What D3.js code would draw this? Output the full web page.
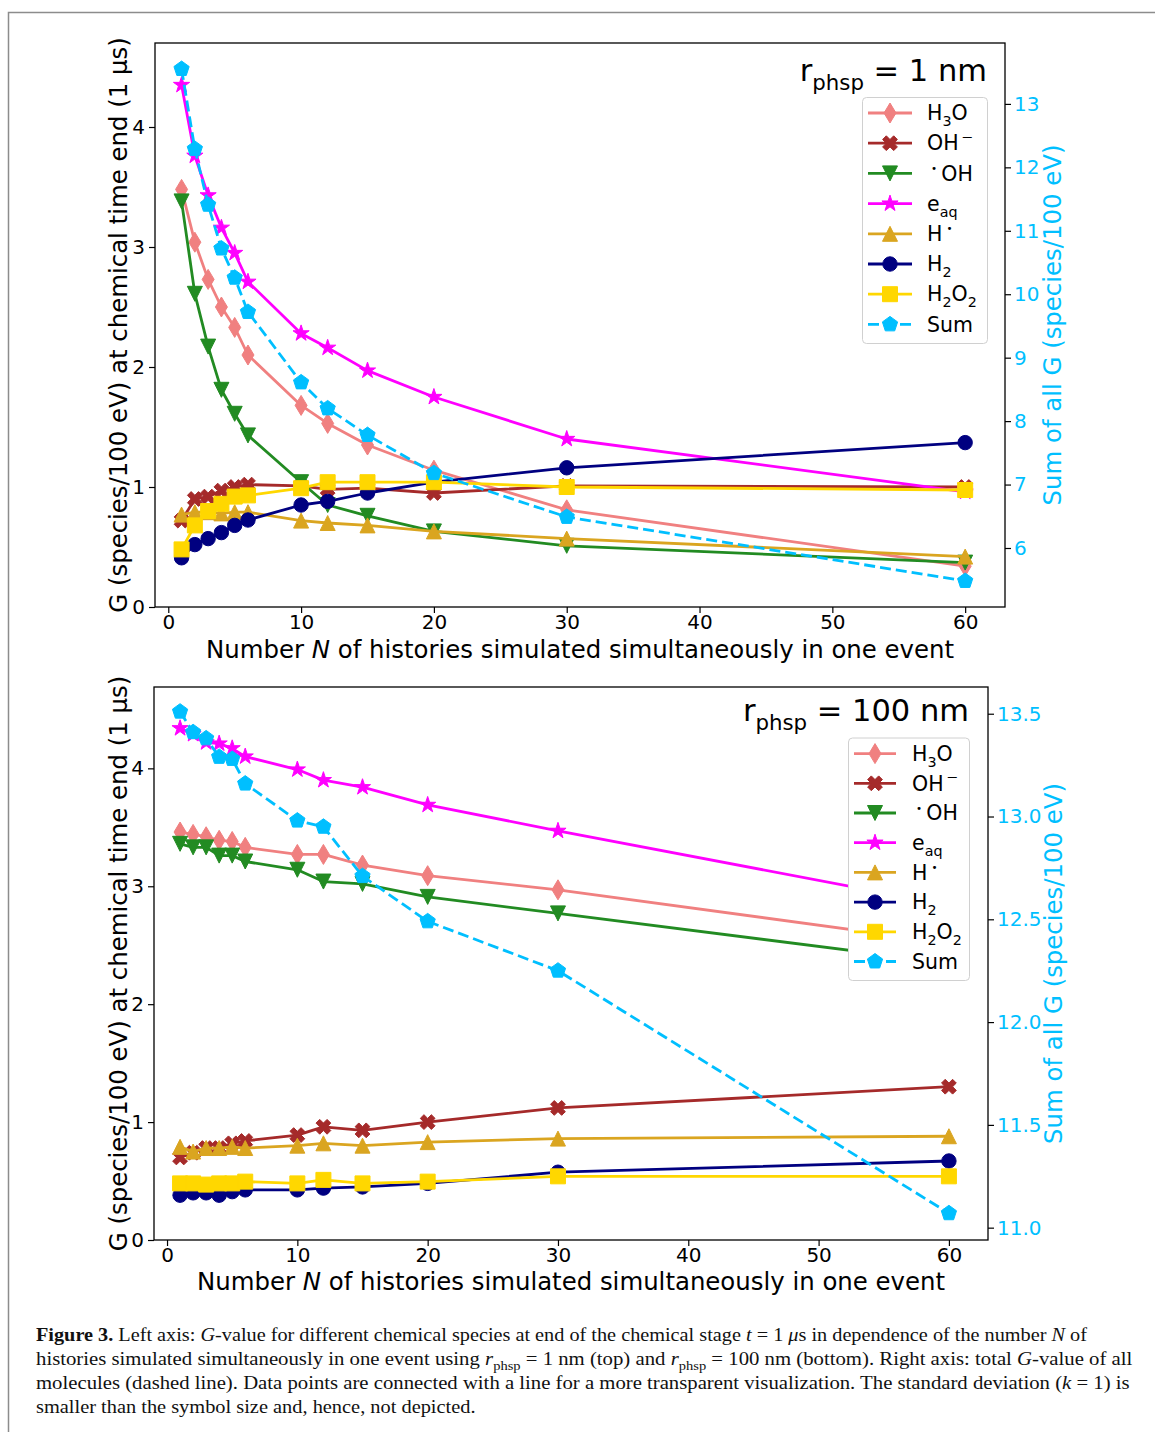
<!DOCTYPE html>
<html>
<head>
<meta charset="utf-8">
<script src="https://cdn.jsdelivr.net/npm/d3@7"></script>
<style>
  body { margin: 0; background: #fff; }
  svg { display: block; }
</style>
</head>
<body>
<svg id="fig" width="1155" height="1432"></svg>
<script>
// ---------- data ----------
const histories = [1, 2, 3, 4, 5, 6, 10, 12, 15, 20, 30, 60];

// r_phsp = 1 nm
const h3o_1nm     = [3.48, 3.04, 2.73, 2.50, 2.33, 2.10, 1.68, 1.53, 1.35, 1.14, 0.81, 0.34];
const ohMinus_1nm = [0.72, 0.90, 0.92, 0.97, 1.00, 1.02, 1.01, 0.98, 0.99, 0.95, 1.01, 1.00];
const ohRad_1nm   = [3.38, 2.61, 2.17, 1.81, 1.61, 1.43, 1.04, 0.85, 0.76, 0.63, 0.51, 0.37];
const eaq_1nm     = [4.35, 3.76, 3.43, 3.16, 2.95, 2.71, 2.28, 2.16, 1.97, 1.75, 1.40, 0.96];
const hRad_1nm    = [0.77, 0.79, 0.79, 0.78, 0.79, 0.79, 0.72, 0.70, 0.68, 0.63, 0.57, 0.42];
const h2_1nm      = [0.41, 0.52, 0.57, 0.62, 0.68, 0.725, 0.85, 0.88, 0.95, 1.04, 1.16, 1.37];
const h2o2_1nm    = [0.48, 0.68, 0.80, 0.86, 0.92, 0.93, 0.99, 1.04, 1.04, 1.04, 1.00, 0.975];
const sum_1nm     = [13.55, 12.29, 11.41, 10.72, 10.26, 9.72, 8.61, 8.20, 7.78, 7.18, 6.49, 5.48];

// r_phsp = 100 nm
const h3o_100nm     = [3.46, 3.44, 3.42, 3.39, 3.38, 3.33, 3.27, 3.27, 3.18, 3.09, 2.97, 2.52];
const ohMinus_100nm = [0.70, 0.74, 0.78, 0.78, 0.82, 0.84, 0.89, 0.96, 0.93, 1.00, 1.12, 1.30];
const ohRad_100nm   = [3.36, 3.33, 3.33, 3.26, 3.26, 3.21, 3.14, 3.04, 3.02, 2.91, 2.77, 2.35];
const eaq_100nm     = [4.34, 4.29, 4.22, 4.21, 4.17, 4.10, 3.99, 3.90, 3.84, 3.69, 3.47, 2.84];
const hRad_100nm    = [0.79, 0.75, 0.78, 0.78, 0.79, 0.78, 0.80, 0.82, 0.80, 0.83, 0.86, 0.88];
const h2_100nm      = [0.38, 0.40, 0.40, 0.38, 0.41, 0.425, 0.425, 0.44, 0.45, 0.48, 0.575, 0.67];
const h2o2_100nm    = [0.48, 0.48, 0.47, 0.48, 0.48, 0.495, 0.48, 0.51, 0.48, 0.495, 0.54, 0.54];
const sum_100nm     = [13.51, 13.41, 13.38, 13.29, 13.28, 13.16, 12.98, 12.95, 12.71, 12.49, 12.25, 11.07];

const xTicks = [0, 10, 20, 30, 40, 50, 60];
const yTicks = [0, 1, 2, 3, 4];
const sumTicks_1nm = [6, 7, 8, 9, 10, 11, 12, 13];
const sumTicks_100nm = [11.0, 11.5, 12.0, 12.5, 13.0, 13.5];

// ---------- styling ----------
const FONT = "'DejaVu Sans', 'Liberation Sans', sans-serif";
const SERIF = "'Liberation Serif', 'Times New Roman', serif";
const SUM_COLOR = "#00bfff";
const LABEL_FS = 24.4;
const TICK_FS = 20;
const TITLE_FS = 30.5;
const LEGEND_FS = 20.5;

const species = [
  { label: [{ t: "H" }, { t: "3", sub: 1 }, { t: "O" }], color: "#f08080", marker: "thinDiamond" },
  { label: [{ t: "OH" }, { t: "\u2009\u2212", sup: 1 }], color: "#a52a2a", marker: "xFilled" },
  { label: [{ t: "\u2009" }, { t: "\u2022", sup: 1, size: 0.5 }, { t: "\u2009OH" }], color: "#228b22", marker: "triDown" },
  { label: [{ t: "e" }, { t: "aq", sub: 1 }], color: "#ff00ff", marker: "star" },
  { label: [{ t: "H" }, { t: "\u2009" }, { t: "\u2022", sup: 1, size: 0.5 }], color: "#daa520", marker: "triUp" },
  { label: [{ t: "H" }, { t: "2", sub: 1 }], color: "#000080", marker: "circle" },
  { label: [{ t: "H" }, { t: "2", sub: 1 }, { t: "O" }, { t: "2", sub: 1 }], color: "#ffd700", marker: "square" }
];
const sumStyle = { label: [{ t: "Sum" }], color: SUM_COLOR, marker: "pentagon", dashed: true };

// ---------- marker shapes ----------
function poly(pts) {
  return "M" + pts.map(p => p[0].toFixed(2) + "," + p[1].toFixed(2)).join("L") + "Z";
}
function regular(n, R, innerRatio) {
  const pts = [];
  const count = innerRatio ? n * 2 : n;
  for (let i = 0; i < count; i++) {
    const a = -Math.PI / 2 + i * 2 * Math.PI / count;
    const r = innerRatio && i % 2 ? R * innerRatio : R;
    pts.push([r * Math.cos(a), r * Math.sin(a)]);
  }
  return poly(pts);
}
const markerPath = {
  circle: () => { const r = 7.2; return `M${r},0A${r},${r} 0 1,1 ${-r},0A${r},${r} 0 1,1 ${r},0Z`; },
  square: () => poly([[-7.5, -7.5], [7.5, -7.5], [7.5, 7.5], [-7.5, 7.5]]),
  triUp: () => poly([[0, -7.5], [7.5, 7.5], [-7.5, 7.5]]),
  triDown: () => poly([[0, 7.5], [7.5, -7.5], [-7.5, -7.5]]),
  star: () => regular(5, 8.5, 0.381966),
  pentagon: () => regular(5, 8, 0),
  thinDiamond: () => poly([[0, -10], [6, 0], [0, 10], [-6, 0]]),
  xFilled: () => poly([[-1, -2], [0, -1], [1, -2], [2, -1], [1, 0], [2, 1],
                       [1, 2], [0, 1], [-1, 2], [-2, 1], [-1, 0], [-2, -1]]
                       .map(p => [p[0] * 3.7, p[1] * 3.7]))
};

// ---------- rich text (sub/superscripts, italics) ----------
function rich(textSel, segs, fs) {
  let prevShift = 0;
  segs.forEach(s => {
    const shift = s.sub ? fs * 0.28 : s.sup ? -fs * 0.42 : 0;
    const ts = textSel.append("tspan")
      .attr("dy", (shift - prevShift).toFixed(2))
      .text(s.t);
    if (s.sub || s.sup) ts.attr("font-size", (fs * (s.size || 0.7)).toFixed(1));
    if (s.i) ts.attr("font-style", "italic");
    if (s.b) ts.attr("font-weight", "bold");
    prevShift = shift;
  });
  return textSel;
}

const svg = d3.select("#fig");

// page frame
svg.append("rect")
  .attr("x", 8.5).attr("y", 12.5).attr("width", 1300).attr("height", 1600)
  .attr("fill", "none").attr("stroke", "#8c8c8c").attr("stroke-width", 1.5);

// ---------- one panel ----------
function drawPanel(p) {
  const g = svg.append("g");
  const x = d3.scaleLinear().domain([-1, 63]).range([p.left, p.right]);
  const y = d3.scaleLinear().domain(p.yDomain).range([p.bottom, p.top]);
  const y2 = d3.scaleLinear().domain(p.y2Domain).range([p.bottom, p.top]);

  const clipId = "clip" + p.id;
  svg.append("clipPath").attr("id", clipId)
    .append("rect").attr("x", p.left).attr("y", p.top)
    .attr("width", p.right - p.left).attr("height", p.bottom - p.top);

  const plot = g.append("g").attr("clip-path", `url(#${clipId})`);

  function drawSeries(values, style, scaleY) {
    const line = d3.line()
      .x((d, i) => x(histories[i]))
      .y(d => scaleY(d));
    const sg = plot.append("g");
    sg.append("path")
      .attr("d", line(values))
      .attr("fill", "none")
      .attr("stroke", style.color)
      .attr("stroke-width", 2.8)
      .attr("stroke-linejoin", "round")
      .attr("stroke-dasharray", style.dashed ? "11,5" : null);
    sg.selectAll("path.mk").data(values).join("path")
      .attr("class", "mk")
      .attr("transform", (d, i) => `translate(${x(histories[i])},${scaleY(d)})`)
      .attr("d", markerPath[style.marker]())
      .attr("fill", style.color)
      .attr("stroke", style.color)
      .attr("stroke-width", 1)
      .attr("stroke-linejoin", "miter");
  }

  p.series.forEach((vals, k) => drawSeries(vals, species[k], y));

  // axes
  const styleAxis = (sel, color) => {
    sel.select(".domain").remove();
    sel.selectAll(".tick line").attr("stroke", "#000").attr("stroke-width", 1.2);
    sel.selectAll(".tick text")
      .attr("font-family", FONT).attr("font-size", TICK_FS)
      .attr("fill", color || "#000");
  };
  g.append("g").attr("transform", `translate(0,${p.bottom})`)
    .call(d3.axisBottom(x).tickValues(xTicks).tickFormat(d3.format("d"))
      .tickSize(6).tickPadding(2))
    .call(s => styleAxis(s));
  g.append("g").attr("transform", `translate(${p.left},0)`)
    .call(d3.axisLeft(y).tickValues(yTicks).tickFormat(d3.format("d"))
      .tickSize(6).tickPadding(4))
    .call(s => styleAxis(s));

  // frame of the left axes
  g.append("rect")
    .attr("x", p.left).attr("y", p.top)
    .attr("width", p.right - p.left).attr("height", p.bottom - p.top)
    .attr("fill", "none").attr("stroke", "#000").attr("stroke-width", 1.3);

  // twin axes: total G
  drawSeries(p.sum, sumStyle, y2);
  g.append("g").attr("transform", `translate(${p.right},0)`)
    .call(d3.axisRight(y2).tickValues(p.sumTicks).tickFormat(d3.format(p.sumFormat))
      .tickSize(6).tickPadding(3))
    .call(s => styleAxis(s, SUM_COLOR));

  // axis labels
  rich(g.append("text")
      .attr("x", (p.left + p.right) / 2).attr("y", p.xLabelY)
      .attr("text-anchor", "middle")
      .attr("font-family", FONT).attr("font-size", LABEL_FS),
    [{ t: "Number " }, { t: "N", i: 1 }, { t: " of histories simulated simultaneously in one event" }], LABEL_FS);

  g.append("text")
    .attr("transform", `translate(${p.yLabelX},${(p.top + p.bottom) / 2}) rotate(-90)`)
    .attr("text-anchor", "middle").attr("dominant-baseline", "central")
    .attr("font-family", FONT).attr("font-size", LABEL_FS)
    .text("G (species/100 eV) at chemical time end (1 \u03bcs)");

  g.append("text")
    .attr("transform", `translate(${p.y2LabelX},${(p.top + p.bottom) / 2}) rotate(-90)`)
    .attr("text-anchor", "middle").attr("dominant-baseline", "central")
    .attr("font-family", FONT).attr("font-size", LABEL_FS)
    .attr("fill", SUM_COLOR)
    .text("Sum of all G (species/100 eV)");

  // panel title
  rich(g.append("text")
      .attr("x", p.title.x).attr("y", p.title.y)
      .attr("text-anchor", "end")
      .attr("font-family", FONT).attr("font-size", TITLE_FS),
    [{ t: "r" }, { t: "phsp", sub: 1 }, { t: " = " + p.title.text }], TITLE_FS);

  // legend
  const L = p.legend;
  const lg = g.append("g");
  lg.append("rect")
    .attr("x", L.x + 0.5).attr("y", L.y + 0.5).attr("width", L.w).attr("height", L.h)
    .attr("rx", 4).attr("fill", "#fff").attr("stroke", "#d0d0d0").attr("stroke-width", 1);
  species.concat([sumStyle]).forEach((st, k) => {
    const yy = L.row0 + k * L.rowH;
    lg.append("line")
      .attr("x1", L.h0).attr("x2", L.h1).attr("y1", yy).attr("y2", yy)
      .attr("stroke", st.color).attr("stroke-width", 2.8)
      .attr("stroke-dasharray", st.dashed ? "11,5" : null);
    lg.append("path")
      .attr("transform", `translate(${(L.h0 + L.h1) / 2},${yy})`)
      .attr("d", markerPath[st.marker]())
      .attr("fill", st.color).attr("stroke", st.color).attr("stroke-width", 1);
    rich(lg.append("text")
        .attr("x", L.tx).attr("y", yy + 7.2)
        .attr("font-family", FONT).attr("font-size", LEGEND_FS),
      st.label, LEGEND_FS);
  });
}

drawPanel({
  id: "top",
  left: 155, right: 1005, top: 43, bottom: 607,
  yDomain: [0, 4.7], y2Domain: [5.07, 13.96],
  series: [h3o_1nm, ohMinus_1nm, ohRad_1nm, eaq_1nm, hRad_1nm, h2_1nm, h2o2_1nm],
  sum: sum_1nm, sumTicks: sumTicks_1nm, sumFormat: "d",
  xLabelY: 658, yLabelX: 118, y2LabelX: 1052,
  title: { x: 987, y: 81, text: "1 nm" },
  legend: { x: 862, y: 97, w: 125, h: 246, row0: 113, rowH: 30.2, h0: 868, h1: 912, tx: 927 }
});

drawPanel({
  id: "bottom",
  left: 154, right: 988, top: 687, bottom: 1240,
  yDomain: [0, 4.69], y2Domain: [10.94, 13.63],
  series: [h3o_100nm, ohMinus_100nm, ohRad_100nm, eaq_100nm, hRad_100nm, h2_100nm, h2o2_100nm],
  sum: sum_100nm, sumTicks: sumTicks_100nm, sumFormat: ".1f",
  xLabelY: 1290, yLabelX: 118, y2LabelX: 1053,
  title: { x: 969, y: 721, text: "100 nm" },
  legend: { x: 848, y: 737.5, w: 121, h: 242.5, row0: 753.6, rowH: 29.7, h0: 854, h1: 896, tx: 912 }
});

// ---------- caption ----------
const captionLines = [
  { y: 1341, w: 1052, segs: [
    { t: "Figure 3.", b: 1 }, { t: " Left axis: " }, { t: "G", i: 1 },
    { t: "-value for different chemical species at end of the chemical stage " }, { t: "t", i: 1 },
    { t: " = 1 " }, { t: "\u03bc", i: 1 }, { t: "s in dependence of the number " }, { t: "N", i: 1 }, { t: " of" }] },
  { y: 1365, w: 1097, segs: [
    { t: "histories simulated simultaneously in one event using " }, { t: "r", i: 1 }, { t: "phsp", sub: 1 },
    { t: " = 1 nm (top) and " }, { t: "r", i: 1 }, { t: "phsp", sub: 1 },
    { t: " = 100 nm (bottom). Right axis: total " }, { t: "G", i: 1 }, { t: "-value of all" }] },
  { y: 1389, w: 1094, segs: [
    { t: "molecules (dashed line). Data points are connected with a line for a more transparent visualization. The standard deviation (" },
    { t: "k", i: 1 }, { t: " = 1) is" }] },
  { y: 1413, w: 440, segs: [{ t: "smaller than the symbol size and, hence, not depicted." }] }
];
const cap = svg.append("g");
captionLines.forEach(ln => {
  const t = cap.append("text")
    .attr("x", 0).attr("y", 0)
    .attr("font-family", SERIF).attr("font-size", 19).attr("fill", "#111");
  rich(t, ln.segs, 19);
  const natural = t.node().getComputedTextLength();
  t.attr("transform", `translate(36,${ln.y}) scale(${(ln.w / natural).toFixed(4)},1)`);
});
</script>
</body>
</html>
